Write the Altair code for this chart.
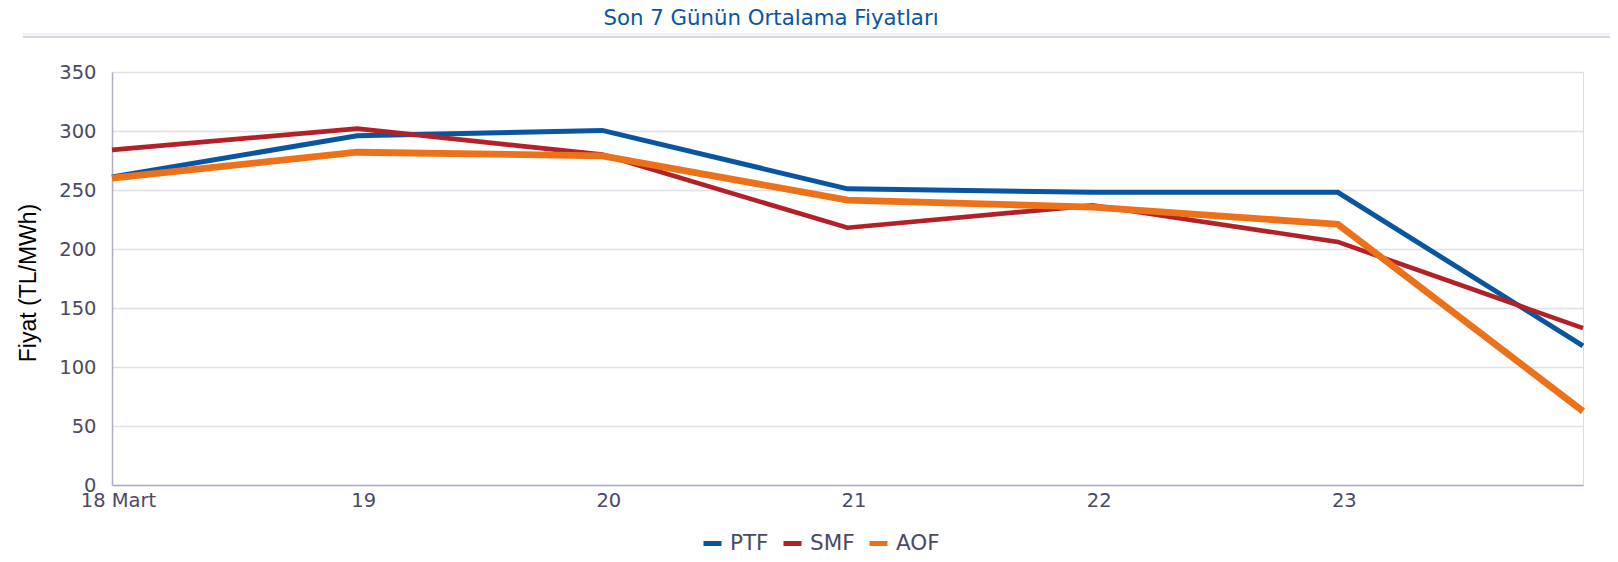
import altair as alt
import pandas as pd

days = [18, 19, 20, 21, 22, 23, 24]
tick_days = [18, 19, 20, 21, 22, 23]
series_names = ["PTF", "SMF", "AOF"]
ptf = [261, 296, 300.5, 251, 248, 248, 118]
smf = [284, 302, 280, 218, 237, 206, 133]
aof = [260, 282, 279, 241.5, 235.5, 221, 62.5]
colors = ["#0A559F", "#B22127", "#EC7119"]
widths = [5, 4.6, 6.8]
title_text = "Son 7 Günün Ortalama Fiyatları"
y_title = "Fiyat (TL/MWh)"

rows = []
for name, vals in zip(series_names, [ptf, smf, aof]):
    for d, v in zip(days, vals):
        rows.append({"day": d, "value": v, "series": name})
df = pd.DataFrame(rows)

W, H = 1471, 413
LABEL_FONT = "DejaVu Sans"

x_enc = alt.X("day:Q",
              scale=alt.Scale(domain=[18, 24], nice=False, zero=False),
              axis=alt.Axis(values=tick_days, title=None, grid=False, ticks=False,
                            labelExpr="datum.value == 18 ? '18 Mart' : datum.value",
                            labelFont=LABEL_FONT, labelFontSize=19.5, labelColor="#4A4A68",
                            labelPadding=6, labelOffset=6, domainColor="#ADADC4",
                            domainWidth=1.5, labelFlush=False))
y_enc = alt.Y("value:Q",
              scale=alt.Scale(domain=[0, 350], nice=False),
              axis=alt.Axis(values=[0, 50, 100, 150, 200, 250, 300, 350],
                            title=y_title, titleFont="Liberation Sans",
                            titleFontSize=23, titleFontWeight="normal", titleColor="#000000",
                            titleX=-77, titleY=210.5, titleAlign="center",
                            titleBaseline="alphabetic", titleAngle=270,
                            grid=True, gridColor="#E0E0EA", gridWidth=1.5, ticks=False,
                            labelFont=LABEL_FONT, labelFontSize=19.5, labelColor="#4A4A68",
                            labelPadding=16, domainColor="#ADADC4", domainWidth=1.5))
color_enc = alt.Color("series:N",
                      scale=alt.Scale(domain=series_names, range=colors),
                      legend=alt.Legend(title=None, orient="none", direction="horizontal",
                                        legendX=589, legendY=460,
                                        symbolType="stroke", symbolSize=324,
                                        symbolStrokeWidth=5,
                                        labelFont=LABEL_FONT, labelFontSize=21.5,
                                        labelColor="#4A4A68", labelOffset=6,
                                        columnPadding=4))

layers = []
for name, w in zip(series_names, widths):
    layers.append(
        alt.Chart(df).transform_filter(alt.datum.series == name)
        .mark_line(strokeWidth=w, strokeJoin="miter", strokeCap="butt")
        .encode(x=x_enc, y=y_enc, color=color_enc, order=alt.Order("day:Q"))
    )

one = pd.DataFrame({"a": [0]})
rule_light = alt.Chart(one).mark_rule(
    color="#ECECF4", strokeWidth=2, clip=False
).encode(x=alt.value(-89), x2=alt.value(W + 27), y=alt.value(-37.7))
rule_dark = alt.Chart(one).mark_rule(
    color="#D5D5E3", strokeWidth=2, clip=False
).encode(x=alt.value(-89), x2=alt.value(W + 27), y=alt.value(-35))

title_mark = alt.Chart(one).mark_text(
    text=title_text, font="DejaVu Sans", fontSize=21.3, color="#0B56A0",
    align="center", baseline="alphabetic", clip=False
).encode(x=alt.value(659), y=alt.value(-47.5))

chart = alt.layer(rule_light, rule_dark, title_mark, *layers).properties(
    width=W, height=H,
    autosize=alt.AutoSizeParams(type="none"),
    padding={"left": 104, "top": 64, "right": 27, "bottom": 69},
).configure_view(stroke=None).configure(background="#FFFFFF")

chart.save("out.html", embed_options={"renderer": "svg", "actions": False})
